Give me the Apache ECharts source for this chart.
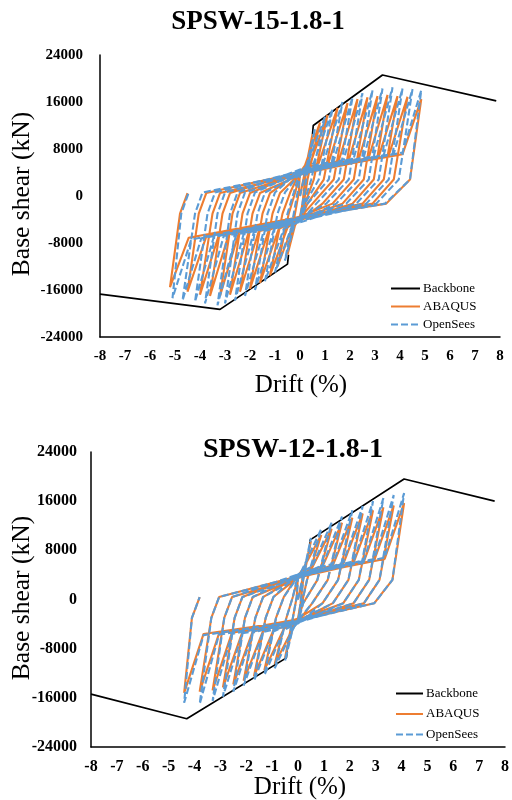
<!doctype html>
<html>
<head>
    <meta charset="utf-8">
    <title>SPSW hysteresis</title>
    <script src="https://cdn.jsdelivr.net/npm/echarts@6/dist/echarts.min.js"></script>
    <style>
        body { margin: 0; background: #fff; }
        #container { width: 512px; height: 800px; }
    </style>
</head>
<body>
    <div id="container"></div>
    <script type="text/javascript">
        // SPSW-15-1.8-1 (top panel): drift (%), base shear (kN)
        var backboneNeg15 = [[-8, -16700], [-3.2, -19300], [-0.5, -11600], [-0.46, -10000]];
        var backbonePos15 = [[0.5, 10500], [0.53, 12000], [3.3, 20600], [7.85, 16200]];
        var abaqus15 = [
            [0, 0], [0.5, 10500], [0.2, 2800], [0.1, -1300], [0, -3500], [-0.2, -5000], [-0.5, -10000], [-0.2, -3000], [-0.05, 500], [0, 4000],
            [0.2, 5200], [0.8, 12500], [0.3, 2800], [0.15, -1300], [0, -3900], [-0.3, -5200], [-0.9, -12000], [-0.45, -3000], [-0.2, 500], [0, 3700],
            [0.4, 5400], [1.1, 13800], [0.55, 2800], [0.2, -1300], [0, -3600], [-0.5, -5400], [-1.2, -13500], [-0.7, -3000], [-0.4, 500], [0, 4200],
            [0.75, 5600], [1.5, 15000], [0.95, 2800], [0.3, -1300], [0, -4000], [-0.85, -5600], [-1.6, -14800], [-1.1, -3000], [-0.8, 500], [0, 3800],
            [1.15, 5800], [1.9, 15800], [1.35, 2800], [0.5, -1300], [0, -3700], [-1.25, -5800], [-2.0, -15800], [-1.5, -3000], [-1.2, 500], [0, 4100],
            [1.55, 6000], [2.3, 16500], [1.75, 2800], [0.9, -1300], [0, -4200], [-1.65, -6000], [-2.4, -16300], [-1.9, -3000], [-1.6, 500], [0, 3600],
            [1.95, 6100], [2.7, 16800], [2.15, 2800], [1.3, -1300], [0, -3500], [-2.05, -6100], [-2.8, -16800], [-2.3, -3000], [-2.0, 500], [0, 4000],
            [2.35, 6300], [3.1, 17000], [2.55, 2800], [1.7, -1300], [0, -3800], [-2.45, -6300], [-3.2, -17000], [-2.7, -3000], [-2.4, 500], [0, 3800],
            [2.75, 6500], [3.5, 17200], [2.95, 2800], [2.1, -1300], [0, -4100], [-2.85, -6500], [-3.6, -17000], [-3.1, -3000], [-2.8, 500], [0, 4200],
            [3.15, 6700], [3.9, 17000], [3.35, 2800], [2.5, -1300], [0, -3700], [-3.25, -6700], [-4.0, -16800], [-3.5, -3000], [-3.2, 500], [0, 3700],
            [3.55, 6900], [4.3, 16900], [3.75, 2800], [2.9, -1300], [0, -3900], [-3.75, -6900], [-4.5, -16300], [-4.05, -3000], [-3.75, 500], [0, 4000],
            [4.1, 7100], [4.85, 16500], [4.4, 2800], [3.45, -1300], [0, -3600], [-4.45, -7100], [-5.2, -15500], [-4.8, -3000], [-4.5, 500]
        ];
        var opensees15 = [
            [0, 0], [0.6, 11500], [0.25, 2800], [0.1, -1300], [0, -4000], [-0.25, -5200], [-0.6, -11000], [-0.25, -3000], [-0.1, 600], [0, 3500],
            [0.3, 5400], [1.0, 13500], [0.45, 2800], [0.15, -1300], [0, -3600], [-0.35, -5400], [-1.0, -13000], [-0.5, -3000], [-0.25, 600], [0, 4300],
            [0.55, 5600], [1.3, 14800], [0.75, 2800], [0.2, -1300], [0, -4300], [-0.65, -5600], [-1.4, -14500], [-0.9, -3000], [-0.6, 600], [0, 3900],
            [0.95, 5800], [1.7, 16000], [1.15, 2800], [0.3, -1300], [0, -3800], [-1.05, -5800], [-1.8, -16000], [-1.3, -3000], [-1.0, 600], [0, 4400],
            [1.35, 6000], [2.1, 16800], [1.55, 2800], [0.65, -1300], [0, -4400], [-1.45, -6000], [-2.2, -17000], [-1.7, -3000], [-1.4, 600], [0, 3700],
            [1.75, 6200], [2.5, 17500], [1.95, 2800], [1.05, -1300], [0, -3700], [-1.85, -6200], [-2.6, -17800], [-2.1, -3000], [-1.8, 600], [0, 4100],
            [2.15, 6400], [2.9, 18000], [2.35, 2800], [1.45, -1300], [0, -4100], [-2.25, -6400], [-3.0, -18300], [-2.5, -3000], [-2.2, 600], [0, 3600],
            [2.55, 6600], [3.3, 18300], [2.75, 2800], [1.85, -1300], [0, -3900], [-2.55, -6600], [-3.3, -18600], [-2.8, -3000], [-2.5, 600], [0, 4500],
            [2.95, 6800], [3.7, 18500], [3.15, 2800], [2.25, -1300], [0, -4500], [-3.05, -6800], [-3.8, -18300], [-3.3, -3000], [-3.0, 600], [0, 3800],
            [3.35, 7000], [4.1, 18300], [3.55, 2800], [2.65, -1300], [0, -3600], [-3.45, -7000], [-4.2, -18000], [-3.7, -3000], [-3.4, 600], [0, 4200],
            [3.75, 7200], [4.5, 18200], [3.95, 2800], [3.05, -1300], [0, -4200], [-3.95, -7200], [-4.7, -17800], [-4.2, -3000], [-3.9, 600], [0, 3900],
            [4.1, 7400], [4.85, 18000], [4.4, 2800], [3.4, -1300], [0, -3800], [-4.35, -7400], [-5.1, -17400], [-4.75, -3000], [-4.45, 600]
        ];

        // SPSW-12-1.8-1 (bottom panel)
        var backboneNeg12 = [[-8, -15400], [-4.3, -19400], [-0.45, -9500], [-0.42, -8200]];
        var backbonePos12 = [[0.45, 8500], [0.47, 9700], [4.1, 19600], [7.6, 16000]];
        var abaqus12 = [
            [0, 0], [0.5, 9500], [0.2, 3200], [0.1, -600], [0, -3100], [-0.2, -4500], [-0.5, -9500], [-0.2, -3000], [-0.05, 400], [0, 3900],
            [0.2, 5000], [0.9, 10500], [0.35, 3200], [0.15, -600], [0, -3500], [-0.2, -4700], [-0.9, -10500], [-0.45, -3000], [-0.2, 400], [0, 3500],
            [0.55, 5200], [1.3, 11500], [0.75, 3200], [0.2, -600], [0, -3200], [-0.55, -4800], [-1.3, -11500], [-0.85, -3000], [-0.55, 400], [0, 4000],
            [0.95, 5400], [1.7, 12500], [1.15, 3200], [0.55, -600], [0, -3600], [-0.95, -5000], [-1.7, -12500], [-1.25, -3000], [-0.95, 400], [0, 3600],
            [1.35, 5600], [2.1, 13300], [1.55, 3200], [0.95, -600], [0, -3100], [-1.35, -5100], [-2.1, -13200], [-1.65, -3000], [-1.35, 400], [0, 3800],
            [1.75, 5800], [2.5, 14000], [1.95, 3200], [1.35, -600], [0, -3500], [-1.75, -5200], [-2.5, -13800], [-2.05, -3000], [-1.75, 400], [0, 3500],
            [2.15, 6000], [2.9, 14500], [2.35, 3200], [1.75, -600], [0, -3300], [-2.15, -5300], [-2.9, -14300], [-2.45, -3000], [-2.15, 400], [0, 3900],
            [2.55, 6200], [3.3, 15000], [2.75, 3200], [2.15, -600], [0, -3600], [-2.55, -5400], [-3.3, -14800], [-2.85, -3000], [-2.55, 400], [0, 3600],
            [2.95, 6400], [3.7, 15300], [3.15, 3200], [2.55, -600], [0, -3200], [-3.05, -5500], [-3.8, -15000], [-3.35, -3000], [-3.05, 400], [0, 3800],
            [3.35, 6600], [4.1, 15700], [3.65, 3200], [2.95, -600], [0, -3400], [-3.65, -5600], [-4.4, -15200], [-4.1, -3000], [-3.8, 400]
        ];
        var opensees12 = [
            [0, 0], [0.5, 10000], [0.2, 3200], [0.1, -600], [0, -3700], [-0.2, -4700], [-0.5, -10000], [-0.2, -3000], [-0.05, 400], [0, 3400],
            [0.2, 5200], [0.9, 11500], [0.35, 3200], [0.15, -600], [0, -3300], [-0.2, -4900], [-0.9, -11200], [-0.45, -3000], [-0.2, 400], [0, 4100],
            [0.55, 5400], [1.3, 12500], [0.75, 3200], [0.2, -600], [0, -3800], [-0.55, -5000], [-1.3, -12300], [-0.85, -3000], [-0.55, 400], [0, 3700],
            [0.95, 5600], [1.7, 13500], [1.15, 3200], [0.55, -600], [0, -3400], [-0.95, -5200], [-1.7, -13200], [-1.25, -3000], [-0.95, 400], [0, 4200],
            [1.35, 5800], [2.1, 14500], [1.55, 3200], [0.95, -600], [0, -3900], [-1.35, -5300], [-2.1, -14000], [-1.65, -3000], [-1.35, 400], [0, 3500],
            [1.75, 6000], [2.5, 15200], [1.95, 3200], [1.35, -600], [0, -3500], [-1.75, -5400], [-2.5, -15000], [-2.05, -3000], [-1.75, 400], [0, 4000],
            [2.15, 6200], [2.9, 16000], [2.35, 3200], [1.75, -600], [0, -3800], [-2.15, -5500], [-2.9, -15800], [-2.45, -3000], [-2.15, 400], [0, 3600],
            [2.55, 6400], [3.3, 16500], [2.75, 3200], [2.15, -600], [0, -3400], [-2.55, -5600], [-3.3, -16500], [-2.85, -3000], [-2.55, 400], [0, 4100],
            [2.95, 6600], [3.7, 17000], [3.15, 3200], [2.55, -600], [0, -3700], [-3.05, -5700], [-3.8, -17000], [-3.35, -3000], [-3.05, 400], [0, 3800],
            [3.35, 6800], [4.1, 17300], [3.65, 3200], [2.95, -600], [0, -3500], [-3.65, -5800], [-4.4, -16800], [-4.1, -3000], [-3.8, 400]
        ];

        var serif = '"Liberation Serif", "Times New Roman", serif';
        var orange = '#ED7D31';
        var blue = '#5B9BD5';

        function xAxisOf(grid, size) {
            return {
                gridIndex: grid, type: 'value', min: -8, max: 8, interval: 1,
                axisLine: { onZero: false, lineStyle: { color: '#000', width: 1.5 } },
                axisTick: { show: false },
                splitLine: { show: false },
                axisLabel: { color: '#000', fontFamily: serif, fontWeight: 'bold', fontSize: size, margin: 12 }
            };
        }
        function yAxisOf(grid, size, margin) {
            return {
                gridIndex: grid, type: 'value', min: -24000, max: 24000, interval: 8000,
                axisLine: { onZero: false, lineStyle: { color: '#000', width: 1.5 } },
                axisTick: { show: false },
                splitLine: { show: false },
                axisLabel: {
                    color: '#000', fontFamily: serif, fontWeight: 'bold', fontSize: size, margin: margin,
                    formatter: function (v) { return String(v); }
                }
            };
        }
        function line(name, idx, data, style) {
            return {
                name: name, type: 'line', xAxisIndex: idx, yAxisIndex: idx, data: data,
                symbol: 'none', silent: true, animation: false,
                lineStyle: style, itemStyle: { color: style.color }
            };
        }
        function seriesOf(idx, bbNeg, bbPos, ab, os) {
            var black = { color: '#000', width: 1.7 };
            return [
                line('Backbone', idx, bbNeg, black),
                line('Backbone', idx, bbPos, black),
                line('ABAQUS', idx, ab, { color: orange, width: 2.1 }),
                line('OpenSees', idx, os, { color: blue, width: 2.1, type: [7, 3] })
            ];
        }
        function legendOf(left, top, width, gap) {
            return {
                orient: 'vertical', left: left, top: top, itemWidth: width, itemHeight: 12, itemGap: gap,
                data: ['Backbone', 'ABAQUS', 'OpenSees'],
                itemStyle: { opacity: 0 },
                textStyle: { color: '#000', fontFamily: serif, fontSize: 13, padding: [0, 0, 0, -2] },
                selectedMode: false
            };
        }
        function label(text, x, y, size, weight, rot) {
            return {
                type: 'text', x: x, y: y, rotation: rot || 0,
                style: { text: text, align: 'center', verticalAlign: 'middle', fill: '#000',
                    font: weight + ' ' + size + 'px ' + serif }
            };
        }

        var option = {
            animation: false,
            backgroundColor: '#fff',
            grid: [
                { left: 100, top: 55, width: 400, height: 282 },
                { left: 91, top: 452, width: 418, height: 295 }
            ],
            xAxis: [xAxisOf(0, 15), xAxisOf(1, 16)],
            yAxis: [yAxisOf(0, 15, 17), yAxisOf(1, 16, 14)],
            legend: [legendOf(385, 277, 29, 5), legendOf(390, 682, 27, 7.5)],
            graphic: [
                label('SPSW-15-1.8-1', 258, 22, 27, 'bold'),
                label('Base shear (kN)', 22, 194, 25.5, 'normal', Math.PI / 2),
                label('Drift (%)', 301, 385, 25, 'normal'),
                label('SPSW-12-1.8-1', 293, 450, 28, 'bold'),
                label('Base shear (kN)', 22, 598, 25.5, 'normal', Math.PI / 2),
                label('Drift (%)', 300, 787, 25, 'normal')
            ],
            series: seriesOf(0, backboneNeg15, backbonePos15, abaqus15, opensees15)
                .concat(seriesOf(1, backboneNeg12, backbonePos12, abaqus12, opensees12))
        };

        var myChart = echarts.init(document.getElementById('container'));
        myChart.setOption(option);
    </script>
</body>
</html>
